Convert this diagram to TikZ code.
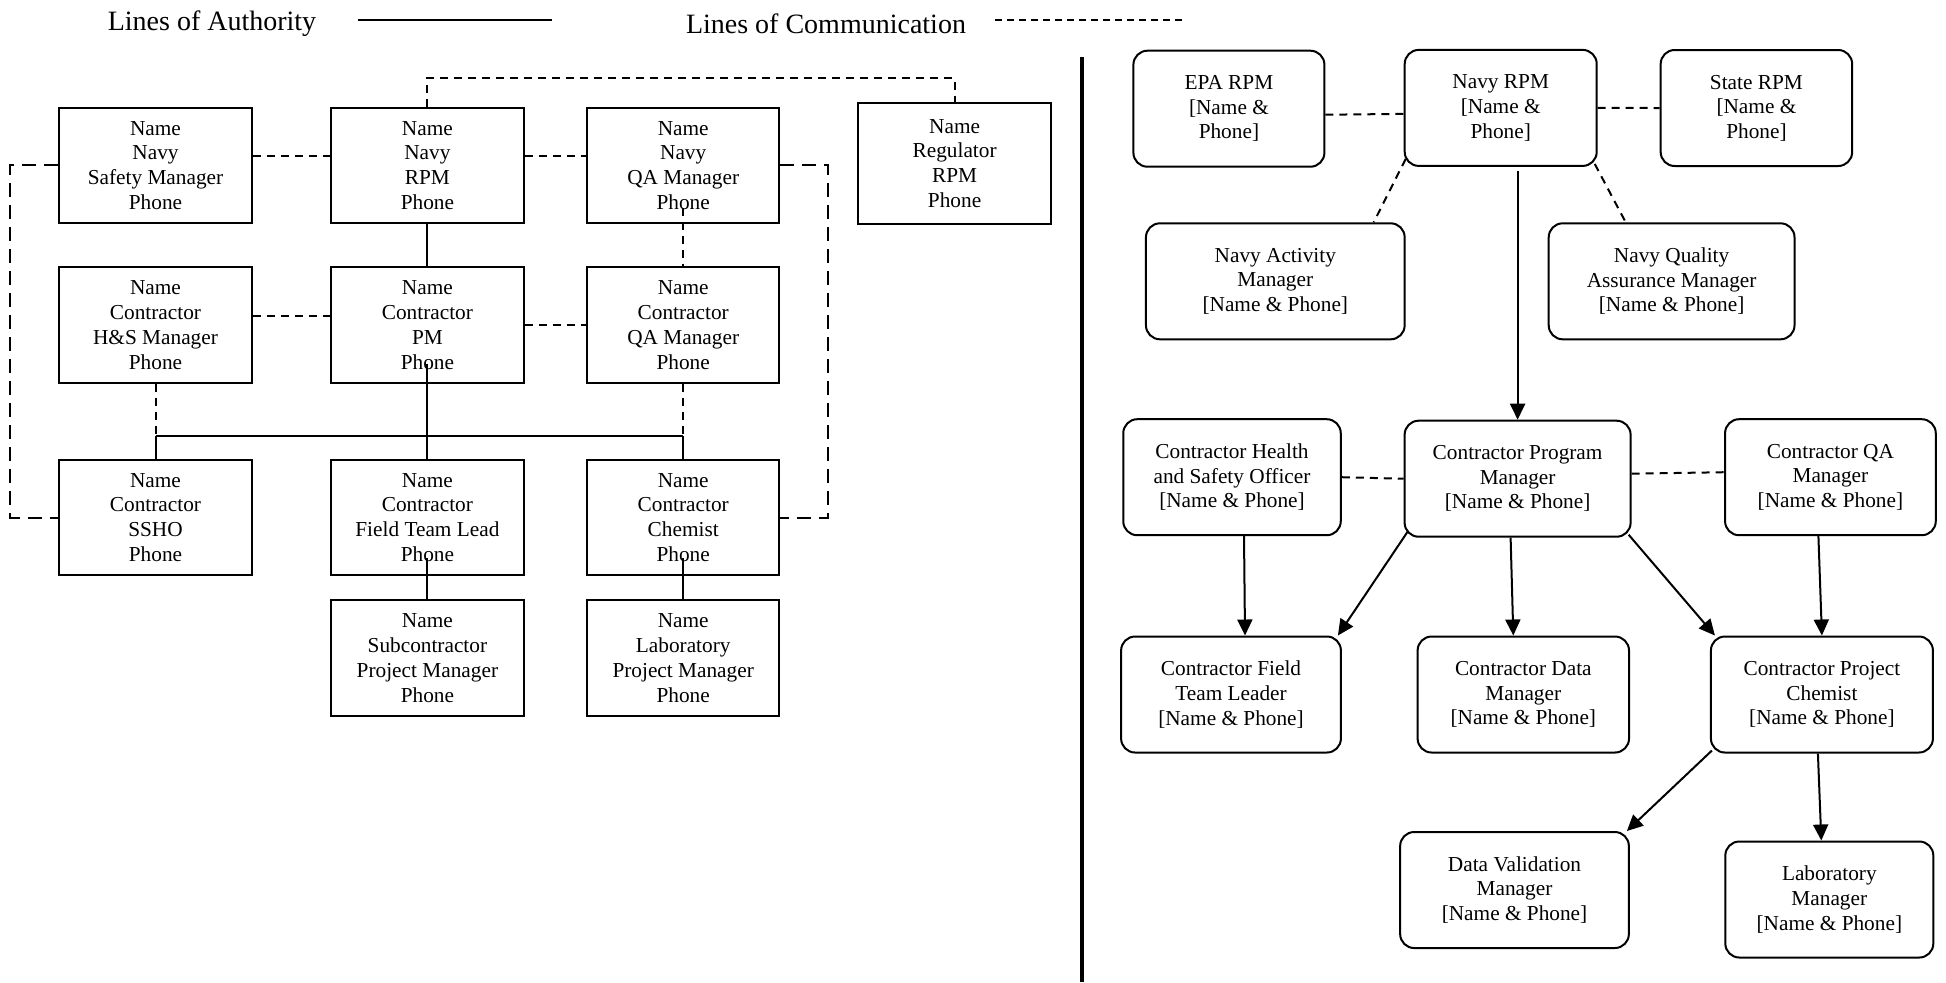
\documentclass[tikz,border=0pt]{standalone}
\usepackage{fontspec}
\setmainfont{Liberation Serif}
\usetikzlibrary{arrows.meta}

\tikzset{
	caixa/.style={draw, line width=1pt, align=center, minimum width=96.25pt, minimum height=57.6pt, inner sep=1pt, font=\fontsize{10.65}{12.4}\selectfont},
	caixar/.style={draw, line width=1pt, rounded corners=7pt, align=center, minimum height=58pt, inner sep=1pt, font=\fontsize{10.65}{12.3}\selectfont},
	legenda/.style={inner sep=0pt, font=\fontsize{14}{16}\selectfont},
	autoridade/.style={line width=1pt},
	seta/.style={line width=1pt, -{Triangle[length=8pt,width=7.5pt]}},
	comunic/.style={line width=1pt, dash pattern=on 4pt off 3pt},
	comlonga/.style={line width=1pt, dash pattern=on 7pt off 4pt},
}

\begin{document}
\begin{tikzpicture}[x=0.5pt, y=-0.5pt]
	\useasboundingbox (0,0) rectangle (1946,982);

% legenda
	\node[legenda] (lauth) at (212,24) {Lines of Authority};
	\draw[line width=1pt] (lauth.east) ++(41,-4) -- ++(194,0);
	\node[legenda] (lcom) at (826,24) {Lines of Communication};
	\draw[line width=0.7pt, dash pattern=on 3.5pt off 2.5pt] (lcom.east) ++(29,-4) -- ++(190,0);

% organograma da esquerda
	\node[caixa] (nsm) at (155.5,165.4) {Name\\Navy\\Safety Manager\\Phone};
	\node[caixa] (nrpm) at (427.4,165.4) {Name\\Navy\\RPM\\Phone};
	\node[caixa] (nqa) at (683.2,165.4) {Name\\Navy\\QA Manager\\Phone};
	\node[caixa, minimum height=60.5pt] (reg) at (954.6,163.4) {Name\\Regulator\\RPM\\Phone};
	\node[caixa] (chs) at (155.5,325) {Name\\Contractor\\H\&S Manager\\Phone};
	\node[caixa] (cpm) at (427.4,325) {Name\\Contractor\\PM\\Phone};
	\node[caixa] (cqa) at (683.2,325) {Name\\Contractor\\QA Manager\\Phone};
	\node[caixa] (ssho) at (155.5,517.5) {Name\\Contractor\\SSHO\\Phone};
	\node[caixa] (ftl) at (427.4,517.5) {Name\\Contractor\\Field Team Lead\\Phone};
	\node[caixa] (chem) at (683.2,517.5) {Name\\Contractor\\Chemist\\Phone};
	\node[caixa] (sub) at (427.4,658) {Name\\Subcontractor\\Project Manager\\Phone};
	\node[caixa] (lab) at (683.2,658) {Name\\Laboratory\\Project Manager\\Phone};

% ligacoes da esquerda
	\draw[comunic] ([yshift=4.5pt]nsm.east) -- ([yshift=4.5pt]nrpm.west);
	\draw[comunic] ([yshift=4.5pt]nrpm.east) -- ([yshift=4.5pt]nqa.west);
	\draw[comunic] ([yshift=4.5pt]chs.east) -- ([yshift=4.5pt]cpm.west);
	\draw[comunic] (cpm.east) -- (cqa.west);
	\draw[comunic] (nrpm.north) -- ++(0,-29) -| (reg.north);
	\draw[comlonga] (nsm.west) -- ++(-48,0) |- (ssho.west);
	\draw[comlonga] (nqa.east) -- ++(48,0) |- (chem.east);
	\draw[comunic] ([yshift=8pt]nqa.south) -- (cqa.north);
	\draw[autoridade] (nrpm.south) -- (cpm.north);

	\coordinate (barra) at (0,436);
	\draw[comunic] (chs.south) -- (chs.south |- barra);
	\draw[comunic] (cqa.south) -- (cqa.south |- barra);
	\draw[autoridade] (ssho.north |- barra) -- (chem.north |- barra);
	\draw[autoridade] (chs.south |- barra) -- (ssho.north);
	\draw[autoridade] (cqa.south |- barra) -- (chem.north);
	\draw[autoridade] ([yshift=10pt]cpm.south) -- (ftl.north);
	\draw[autoridade] ([yshift=9pt]ftl.south) -- (sub.north);
	\draw[autoridade] ([yshift=9pt]chem.south) -- (lab.north);

% divisoria
	\draw[line width=2pt] (1081.5,57) -- (1081.5,982);

% organograma da direita
	\node[caixar, minimum width=95.5pt] (epa) at (1228.9,108.7) {EPA RPM\\{[}Name \&\\Phone{]}};
	\node[caixar, minimum width=96pt] (navy) at (1500.7,107.9) {Navy RPM\\{[}Name \&\\Phone{]}};
	\node[caixar, minimum width=95.75pt] (state) at (1756.4,108) {State RPM\\{[}Name \&\\Phone{]}};
	\node[caixar, minimum width=129.35pt] (nam) at (1275.3,281.3) {Navy Activity\\Manager\\{[}Name \& Phone{]}};
	\node[caixar, minimum width=122.9pt] (nqam) at (1671.6,281.3) {Navy Quality\\Assurance Manager\\{[}Name \& Phone{]}};
	\node[caixar, minimum width=108.75pt] (rhs) at (1232,477.2) {Contractor Health\\and Safety Officer\\{[}Name \& Phone{]}};
	\node[caixar, minimum width=113pt] (rpm) at (1517.6,478.7) {Contractor Program\\Manager\\{[}Name \& Phone{]}};
	\node[caixar, minimum width=105.35pt] (rqa) at (1830.4,477.2) {Contractor QA\\Manager\\{[}Name \& Phone{]}};
	\node[caixar, minimum width=109.9pt] (rftl) at (1231,694.5) {Contractor Field\\Team Leader\\{[}Name \& Phone{]}};
	\node[caixar, minimum width=105.7pt] (rdm) at (1523.3,694.5) {Contractor Data\\Manager\\{[}Name \& Phone{]}};
	\node[caixar, minimum width=111pt] (rpc) at (1821.9,694.5) {Contractor Project\\Chemist\\{[}Name \& Phone{]}};
	\node[caixar, minimum width=114.35pt] (dvm) at (1514.5,890) {Data Validation\\Manager\\{[}Name \& Phone{]}};
	\node[caixar, minimum width=104pt] (labm) at (1829.3,899.5) {Laboratory\\Manager\\{[}Name \& Phone{]}};

% ligacoes da direita
	\draw[comunic] ([yshift=-3pt]epa.east) -- ([yshift=-3pt]navy.west);
	\draw[comunic] (navy.east) -- (state.west);
	\draw[comunic] ([shift={(1pt,4pt)}]navy.south west) -- ([xshift=-16pt]nam.north east);
	\draw[comunic] ([shift={(-1.5pt,1.5pt)}]navy.south east) -- ([xshift=39pt]nqam.north west);
	\draw[seta] (rpm.north |- navy.south) ++(0,4) -- (rpm.north);
	\draw[comunic] (rhs.east) -- (rpm.west);
	\draw[comunic] ([yshift=2.5pt]rpm.east) -- ([yshift=2.5pt]rqa.west);

	\draw[seta] ([xshift=6pt]rhs.south) -- ([xshift=7pt]rftl.north);
	\draw[seta] ([shift={(2pt,3pt)}]rpm.south west) -- ([xshift=-2pt]rftl.north east);
	\draw[seta] ([xshift=-3.5pt]rpm.south) -- ([xshift=-5pt]rdm.north);
	\draw[seta] ([shift={(-1.5pt,1.5pt)}]rpm.south east) -- ([xshift=2.5pt]rpc.north west);
	\draw[seta] ([xshift=-6pt]rqa.south) -- (rpc.north);
	\draw[seta] ([shift={(1pt,1.5pt)}]rpc.south west) -- ([xshift=-1.5pt]dvm.north east);
	\draw[seta] ([xshift=-2pt]rpc.south) -- ([xshift=-4pt]labm.north);

\end{tikzpicture}
\end{document}
